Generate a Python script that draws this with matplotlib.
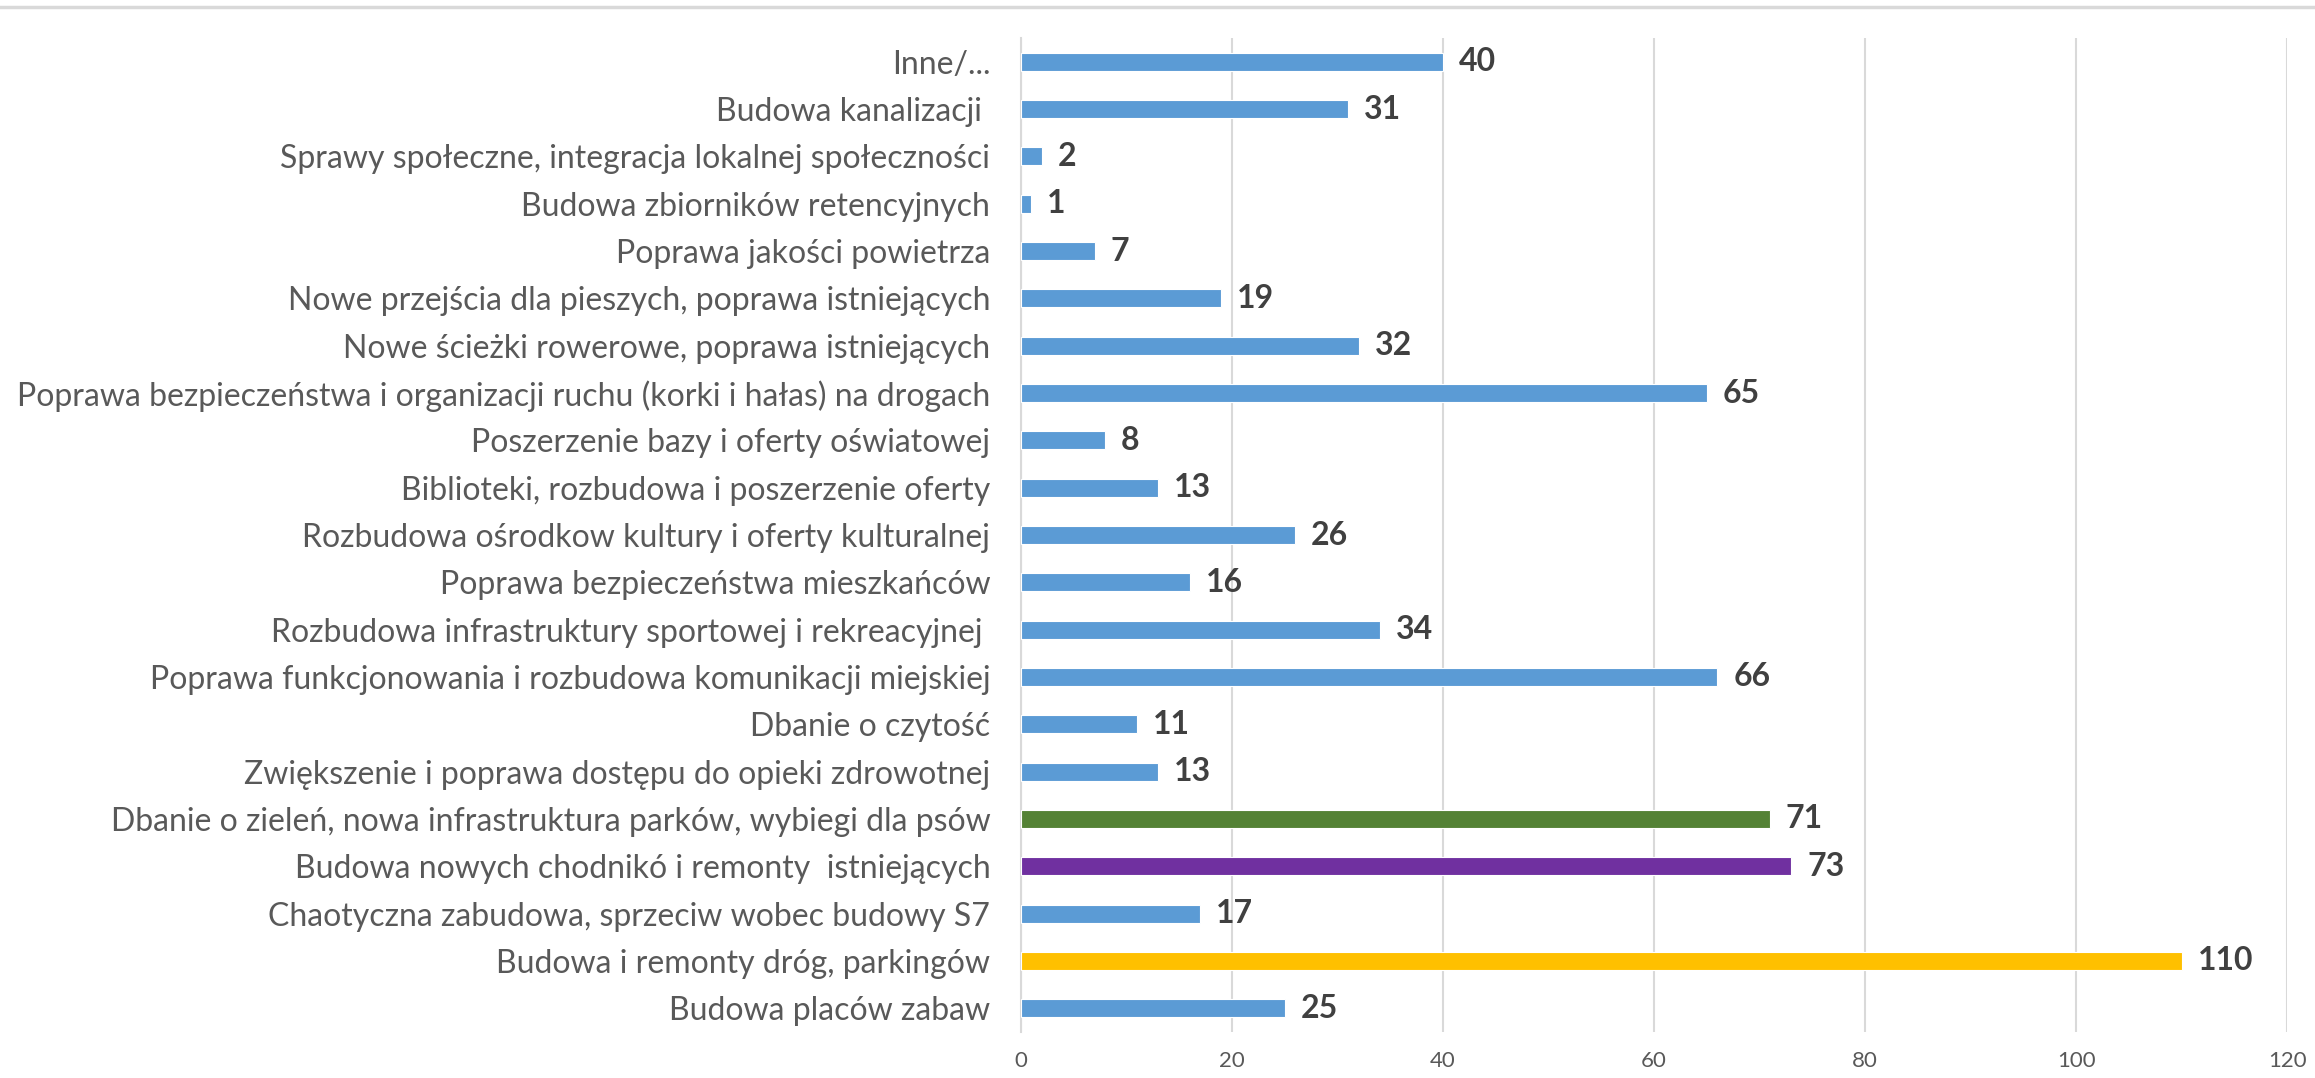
import matplotlib.pyplot as plt
from matplotlib.lines import Line2D

categories = [
    "Inne/...",
    "Budowa kanalizacji ",
    "Sprawy społeczne, integracja lokalnej społeczności",
    "Budowa zbiorników retencyjnych",
    "Poprawa jakości powietrza",
    "Nowe przejścia dla pieszych, poprawa istniejących",
    "Nowe ścieżki rowerowe, poprawa istniejących",
    "Poprawa bezpieczeństwa i organizacji ruchu (korki i hałas) na drogach",
    "Poszerzenie bazy i oferty oświatowej",
    "Biblioteki, rozbudowa i poszerzenie oferty",
    "Rozbudowa ośrodkow kultury i oferty kulturalnej",
    "Poprawa bezpieczeństwa mieszkańców",
    "Rozbudowa infrastruktury sportowej i rekreacyjnej ",
    "Poprawa funkcjonowania i rozbudowa komunikacji miejskiej",
    "Dbanie o czytość",
    "Zwiększenie i poprawa dostępu do opieki zdrowotnej",
    "Dbanie o zieleń, nowa infrastruktura parków, wybiegi dla psów",
    "Budowa nowych chodnikó i remonty  istniejących",
    "Chaotyczna zabudowa, sprzeciw wobec budowy S7",
    "Budowa i remonty dróg, parkingów",
    "Budowa placów zabaw",
]
values = [40, 31, 2, 1, 7, 19, 32, 65, 8, 13, 26, 16, 34, 66, 11, 13, 71, 73, 17, 110, 25]
highlight = {
    "Dbanie o zieleń, nowa infrastruktura parków, wybiegi dla psów": "#548235",
    "Budowa nowych chodnikó i remonty  istniejących": "#7030A0",
    "Budowa i remonty dróg, parkingów": "#FFC000",
}
xticks = [0, 20, 40, 60, 80, 100, 120]

plt.rcParams['font.family'] = ['Lato', 'DejaVu Sans']

fig = plt.figure(figsize=(23.15, 10.78), dpi=100)
ax = fig.add_axes([0.441, 0.0427, 0.547, 0.922])

colors = [highlight.get(c, "#5B9BD5") for c in categories]
ypos = list(range(len(categories)))
ax.barh(ypos, values, height=0.38, color=colors, edgecolor="white", linewidth=0.8, zorder=3)

for y, v in zip(ypos, values):
    ax.text(v + 1.5, y, str(v), va="center", ha="left", fontsize=23,
            fontweight="bold", color="#404040")

ax.set_yticks(ypos)
ax.set_yticklabels(categories, fontsize=23, color="#595959")
ax.set_ylim(len(categories) - 0.5, -0.5)
ax.set_xlim(0, 120)
ax.set_xticks(xticks)
ax.tick_params(axis="x", labelsize=16, labelcolor="#595959", length=0, pad=14)
ax.tick_params(axis="y", length=0, pad=22)
ax.xaxis.grid(True, color="#D9D9D9", linewidth=1.5, zorder=0)
ax.set_axisbelow(True)
for s in ["top", "right", "bottom"]:
    ax.spines[s].set_visible(False)
ax.spines["left"].set_color("#D9D9D9")
ax.spines["left"].set_linewidth(1.5)

fig.add_artist(Line2D([0, 1], [0.9935, 0.9935], color="#D9D9D9", linewidth=2.5,
                      transform=fig.transFigure))

fig.savefig("out.png", dpi=100)
